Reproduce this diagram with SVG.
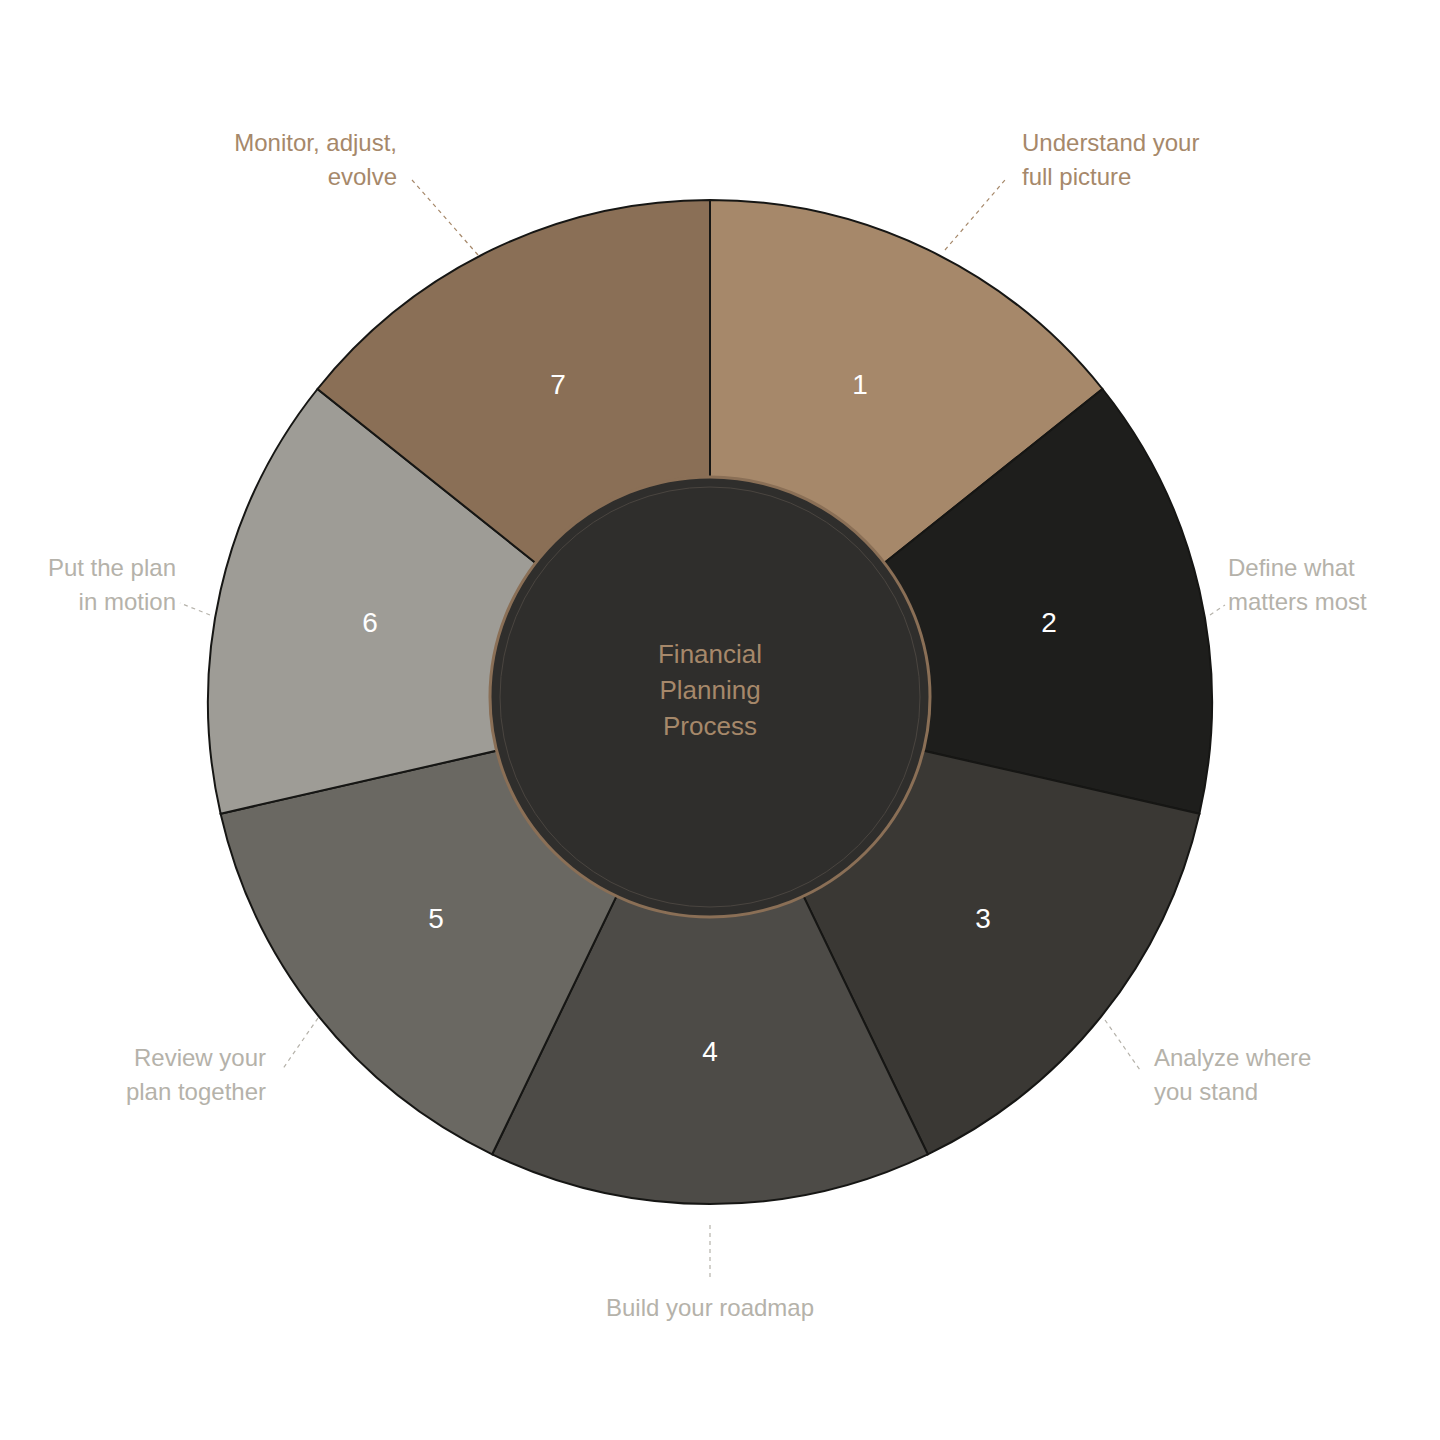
<svg xmlns="http://www.w3.org/2000/svg" width="1440" height="1440" viewBox="0 0 1440 1440">
<style>
.seg{stroke:#161614;stroke-width:2}
.num{font-family:"Liberation Sans",Arial,sans-serif;font-size:28px;fill:#fff;text-anchor:middle}
.lab{font-family:"Liberation Sans",Arial,sans-serif;font-size:24px}
.g{fill:#B5B2AA}.b{fill:#A6886A}
.ld{stroke:#B5B2AA;stroke-width:1.2;stroke-dasharray:4 4;fill:none}
.ldb{stroke:#A6886A}
</style>
<rect width="1440" height="1440" fill="#fff"/>
<g id="s1"><path class="seg" fill="#A6886A" d="M710,702 L710,200 A502,502 0 0 1 1102.5,389 Z"/><text class="num" x="860" y="394">1</text></g>
<g id="s2"><path class="seg" fill="#1E1E1C" d="M710,702 L1102.5,389 A502,502 0 0 1 1199.4,813.7 Z"/><text class="num" x="1049" y="632">2</text></g>
<g id="s3"><path class="seg" fill="#3A3834" d="M710,702 L1199.4,813.7 A502,502 0 0 1 927.8,1154.3 Z"/><text class="num" x="983" y="928">3</text></g>
<g id="s4"><path class="seg" fill="#4D4B47" d="M710,702 L927.8,1154.3 A502,502 0 0 1 492.2,1154.3 Z"/><text class="num" x="710" y="1061">4</text></g>
<g id="s5"><path class="seg" fill="#6A6862" d="M710,702 L492.2,1154.3 A502,502 0 0 1 220.6,813.7 Z"/><text class="num" x="436" y="928">5</text></g>
<g id="s6"><path class="seg" fill="#9E9C96" d="M710,702 L220.6,813.7 A502,502 0 0 1 317.5,389 Z"/><text class="num" x="370" y="632">6</text></g>
<g id="s7"><path class="seg" fill="#8A6F56" d="M710,702 L317.5,389 A502,502 0 0 1 710,200 Z"/><text class="num" x="558" y="394">7</text></g>
<g id="center">
<circle cx="710" cy="697" r="220" fill="#2F2E2C" stroke="#8A6F56" stroke-width="3"/>
<circle cx="710" cy="697" r="210" fill="none" stroke="#4A4540" stroke-width="1"/>
<text class="lab b" text-anchor="middle" font-size="26" x="710" y="663" style="font-size:26px">Financial</text>
<text class="lab b" text-anchor="middle" x="710" y="699" style="font-size:26px">Planning</text>
<text class="lab b" text-anchor="middle" x="710" y="735" style="font-size:26px">Process</text>
</g>
<g id="connectors">
<path class="ld ldb" d="M945,250 L1005,180"/>
<path class="ld" d="M1210,615 L1225,605"/>
<path class="ld" d="M1105,1020 L1140,1070"/>
<path class="ld" d="M710,1225 L710,1278"/>
<path class="ld" d="M318,1018 L282,1070"/>
<path class="ld" d="M210,615 L180,603"/>
<path class="ld ldb" d="M478,255 L412,180"/>
</g>
<g id="labels">
<text class="lab b" x="1022" y="151">Understand your</text><text class="lab b" x="1022" y="185">full picture</text>
<text class="lab g" x="1228" y="576">Define what</text><text class="lab g" x="1228" y="610">matters most</text>
<text class="lab g" x="1154" y="1066">Analyze where</text><text class="lab g" x="1154" y="1100">you stand</text>
<text class="lab g" x="710" y="1316" text-anchor="middle">Build your roadmap</text>
<text class="lab g" x="266" y="1066" text-anchor="end">Review your</text><text class="lab g" x="266" y="1100" text-anchor="end">plan together</text>
<text class="lab g" x="176" y="576" text-anchor="end">Put the plan</text><text class="lab g" x="176" y="610" text-anchor="end">in motion</text>
<text class="lab b" x="397" y="151" text-anchor="end">Monitor, adjust,</text><text class="lab b" x="397" y="185" text-anchor="end">evolve</text>
</g>
</svg>
